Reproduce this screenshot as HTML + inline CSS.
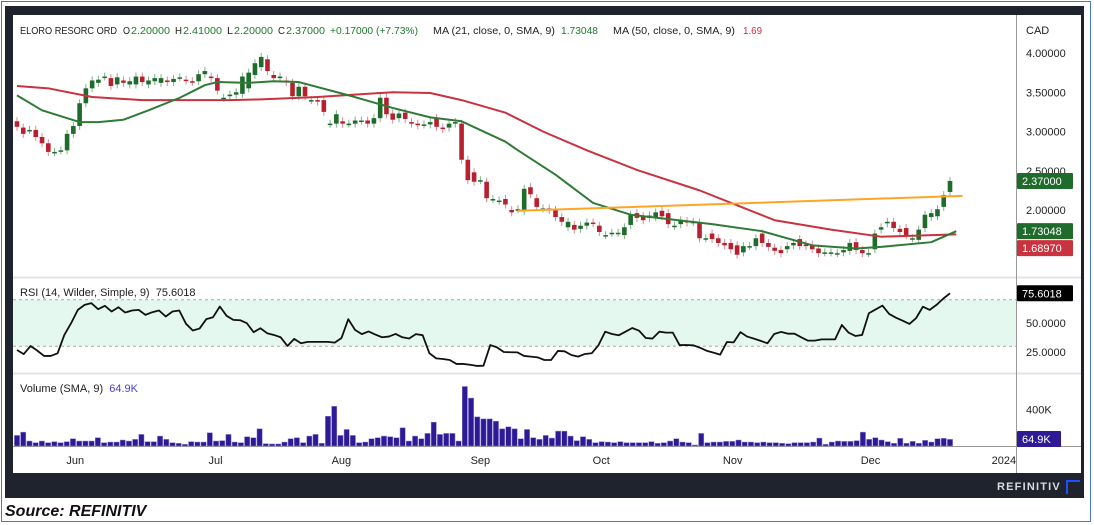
<!DOCTYPE html>
<html><head><meta charset="utf-8">
<style>
html,body{margin:0;padding:0;background:#fff;}
body{width:1094px;height:525px;position:relative;overflow:hidden;font-family:"Liberation Sans",sans-serif;}
#outer{position:absolute;left:1px;top:1px;width:1090px;height:521px;border:1.5px solid #4a78c8;box-sizing:border-box;}
#frame{position:absolute;left:5px;top:6px;width:1079px;height:492px;background:#1f232d;}
#inner{position:absolute;left:13px;top:15px;width:1068px;height:458px;background:#fff;}
svg{position:absolute;left:0;top:0;}
svg text{white-space:pre;}
#src{position:absolute;left:5px;top:503px;font-size:16px;font-weight:bold;font-style:italic;color:#111;}
#brand{position:absolute;left:997px;top:481px;font-size:11px;font-weight:bold;letter-spacing:1.2px;color:#d8dbe0;}
#logo{position:absolute;left:1066px;top:480px;width:14px;height:14px;border-top:2px solid #1e50ff;border-left:2px solid #1e50ff;box-sizing:border-box;}
</style></head><body>
<div id="outer"></div>
<div id="frame"></div>
<div id="inner"></div>
<svg id="chart" width="1094" height="525"></svg>
<div id="brand">REFINITIV</div>
<div id="logo"></div>
<div id="src">Source: REFINITIV</div>
<script>
const opens=[3.13,3.05,3.02,3.02,2.93,2.85,2.74,2.76,2.76,2.97,3.07,3.36,3.55,3.62,3.70,3.68,3.60,3.65,3.60,3.60,3.70,3.60,3.64,3.62,3.65,3.63,3.69,3.66,3.64,3.64,3.73,3.70,3.68,3.43,3.45,3.47,3.48,3.55,3.72,3.82,3.92,3.72,3.68,
3.65,3.62,3.45,3.57,3.40,3.40,3.40,3.10,3.10,3.13,3.10,3.10,3.14,3.14,3.10,3.17,3.43,3.23,3.17,3.24,3.12,3.10,3.09,3.09,3.17,3.05,3.05,3.10,
3.10,2.64,2.48,2.38,2.36,2.14,2.12,2.14,2.00,2.01,1.99,2.29,2.15,2.02,2.02,2.00,1.91,1.78,1.81,1.76,1.80,1.84,1.80,1.68,1.71,1.71,1.68,1.81,1.96,1.92,1.90,1.91,1.99,1.96,1.80,1.82,1.86,1.85,1.84,1.64,1.70,1.64,1.58,1.58,1.55,1.46,1.54,1.54,1.70,1.58,1.52,1.49,1.50,1.55,1.63,1.56,1.56,1.51,1.46,1.46,1.45,1.46,1.48,1.59,1.49,1.45,1.50,1.75,1.83,1.85,1.76,1.77,1.64,1.62,1.77,1.91,1.92,2.04,2.23];
const closes=[3.06,2.97,3.02,2.93,2.85,2.74,2.74,2.76,2.97,3.07,3.36,3.55,3.65,3.66,3.70,3.58,3.69,3.62,3.64,3.70,3.63,3.65,3.68,3.68,3.63,3.67,3.69,3.65,3.63,3.73,3.77,3.68,3.52,3.43,3.47,3.50,3.70,3.75,3.87,3.95,3.77,3.68,3.70,
3.63,3.45,3.57,3.45,3.40,3.38,3.25,3.10,3.22,3.10,3.10,3.14,3.14,3.10,3.17,3.43,3.22,3.15,3.23,3.16,3.10,3.08,3.09,3.12,3.06,3.03,3.10,3.12,
2.64,2.38,2.36,2.38,2.15,2.14,2.12,2.07,1.97,2.01,2.27,2.20,2.04,2.02,2.00,1.91,1.85,1.85,1.75,1.80,1.84,1.83,1.72,1.68,1.71,1.71,1.78,1.94,1.90,1.87,1.93,1.97,1.92,1.82,1.80,1.87,1.84,1.85,1.64,1.64,1.63,1.58,1.55,1.50,1.43,1.54,1.54,1.64,1.58,1.53,1.48,1.45,1.54,1.58,1.54,1.54,1.50,1.45,1.46,1.46,1.45,1.49,1.58,1.49,1.45,1.45,1.70,1.78,1.85,1.77,1.72,1.68,1.64,1.75,1.94,1.96,2.01,2.19,2.37];
const ma21Idx=[0,4,10,13,17,21,26,30,32,37,41,45,53,60,66,71,78,80,86,92,98,111,119,127,134,138,146,150];
const ma21Val=[3.46,3.27,3.12,3.12,3.15,3.27,3.43,3.59,3.63,3.62,3.64,3.63,3.46,3.30,3.18,3.13,2.87,2.76,2.45,2.09,1.94,1.82,1.73,1.55,1.51,1.53,1.59,1.73];
const ma50Idx=[0,5,12,20,34,39,48,60,66,71,78,84,91,99,109,115,121,130,138,150];
const ma50Val=[3.58,3.55,3.44,3.40,3.40,3.41,3.44,3.50,3.49,3.40,3.24,3.00,2.76,2.51,2.25,2.06,1.87,1.75,1.66,1.69];
const trendIdx=[80,151];
const trendVal=[1.99,2.18];
const priceTicks=[4.0,3.5,3.0,2.5,2.0];
const rsiVals=[26.7,23.2,30.2,26.2,21.6,21.6,23.9,39.7,49.8,61.3,65.6,67.1,61.9,64.8,59.9,63.6,59.0,60.8,61.3,57.0,59.3,60.8,55.6,59.9,60.8,49.3,43.5,45.2,53.3,55.0,64.2,56.2,52.7,52.4,49.8,42.1,45.5,41.2,39.7,37.7,30.2,36.3,32.5,33.7,33.7,33.7,33.7,33.1,37.1,53.3,44.1,40.4,42.7,40.0,37.7,38.3,40.6,37.7,36.6,40.4,39.5,23.9,19.5,19.0,18.1,14.7,14.7,14.0,13.0,13.2,
31.0,29.0,25.0,24.8,24.7,21.6,21.0,20.4,18.1,18.1,25.9,25.6,22.4,21.0,23.3,23.9,30.8,42.5,40.5,39.4,42.5,45.7,43.4,37.1,36.6,42.5,41.7,41.7,31.0,31.0,30.8,28.7,26.1,24.5,22.7,33.6,33.3,42.1,38.3,36.5,34.6,32.5,40.5,42.3,40.8,40.8,37.7,34.8,34.8,35.9,35.9,35.9,48.3,41.7,38.8,39.7,58.4,61.7,65.0,57.8,54.6,52.0,49.2,54.3,64.1,61.3,65.6,71.0,75.6];
const rsiTicks=[50,25];
const volK=[115,151,54,36,54,36,47,36,47,79,54,54,54,90,36,43,43,65,54,72,126,47,47,108,72,36,29,18,47,43,43,144,54,58,126,43,36,101,90,187,25,22,22,43,79,90,36,108,126,29,324,432,115,180,115,36,43,79,90,108,101,90,198,54,108,79,137,259,126,137,137,54,648,522,317,295,295,270,187,209,187,79,180,
90,72,115,86,162,162,108,58,101,72,36,47,43,36,47,36,36,36,36,47,29,36,54,79,43,36,11,137,36,43,43,50,50,65,43,43,36,43,36,36,29,25,36,36,36,43,86,18,43,54,50,50,58,151,72,90,65,47,29,83,29,50,29,61,43,79,83,72];
const volTicks=[400];
const monthLabels=['Jun','Jul','Aug','Sep','Oct','Nov','Dec','2024'];
const monthIdx=[9.3,31.7,51.8,74,93.3,114.3,136.3,157.6];

const NS='http://www.w3.org/2000/svg';
const svg=document.getElementById('chart');
const X0=17,X1=950;
function xi(i,n){return X0+i*(X1-X0)/(n-1);}
const xc=i=>xi(i,closes.length);
const yP=p=>53+(4-p)*78.5;
const yR=v=>323-(v-50)*1.16;
const yV=k=>446-k*0.0918;
function el(tag,attrs,parent){const e=document.createElementNS(NS,tag);for(const k in attrs)e.setAttribute(k,attrs[k]);(parent||svg).appendChild(e);return e;}
function txt(s,x,y,attrs){const t=el('text',Object.assign({x:x,y:y,'font-family':'Liberation Sans, sans-serif','font-size':11,fill:'#222'},attrs||{}));t.textContent=s;return t;}

let s1=el('line',{x1:13,x2:1081,y1:277.5,y2:277.5,stroke:'#e3e3e3','stroke-width':2});

let s2=el('line',{x1:13,x2:1081,y1:373.5,y2:373.5,stroke:'#e3e3e3','stroke-width':2});

let s3=el('line',{x1:13,x2:1081,y1:446.5,y2:446.5,stroke:'#999','stroke-width':1});

let s4=el('line',{x1:1016.5,x2:1016.5,y1:15,y2:473,stroke:'#999','stroke-width':1});


let band=el('rect',{x:13,width:1003,y:yR(70),height:yR(30)-yR(70),fill:'#e5f8f0'});

[70,30].forEach(v=>{let l=el('line',{x1:13,x2:1016,y1:yR(v),y2:yR(v),stroke:'#aaa','stroke-dasharray':'3,3'});
});

const cg=el('g',{});
closes.forEach((c,i)=>{
 const o=opens[i];const up=c>=o;const col=up?'#1e6b2b':'#b8202f';const x=xc(i);
 const top=yP(Math.max(o,c)),bot=yP(Math.min(o,c));
 const w=el('line',{x1:x,x2:x,y1:top-4,y2:bot+4,stroke:up?'#7fb08a':'#d98a93','stroke-width':1},cg);
 
 const r=el('rect',{x:x-2.3,width:4.6,y:top,height:Math.max(1.5,bot-top),fill:col},cg);
 
});
function poly(idx,vals,col,name,w){const pts=idx.map((k,j)=>xc(k)+','+yP(vals[j])).join(' ');
 const p=el('polyline',{points:pts,fill:'none',stroke:col,'stroke-width':w,'stroke-linejoin':'round'});
 }
poly(ma50Idx,ma50Val,'#c9323f','ma50-line',2);
poly(ma21Idx,ma21Val,'#2f7a35','ma21-line',2);
poly(trendIdx,trendVal,'#ffa526','trend-line',2);

const rp=rsiVals.map((v,j)=>xi(j,rsiVals.length)+','+yR(v)).join(' ');
let rl=el('polyline',{points:rp,fill:'none',stroke:'#111','stroke-width':1.8,'stroke-linejoin':'round'});


const vg=el('g',{});
const vw=(X1-X0)/(volK.length-1);
volK.forEach((k,j)=>{const x=xi(j,volK.length);
 const b=el('rect',{x:x-vw/2+0.5,width:vw-1,y:yV(k),height:446-yV(k),fill:'#2d1a94',stroke:'#8a7fd0','stroke-width':0.5},vg);
 });

let cad=txt('CAD',1026,34);
priceTicks.forEach(p=>{let t=txt(p.toFixed(5),1026,yP(p)+4);});
rsiTicks.forEach(v=>{let t=txt(v.toFixed(4),1026,yR(v)+4);});
volTicks.forEach(v=>{let t=txt(v+'K',1026,yV(v)+4);});
monthLabels.forEach((m,j)=>{let t=txt(m,xc(monthIdx[j]),464,{'text-anchor':'middle'});});

function badge(label,y,bg,w,name){const g=el('g',{});
 el('rect',{x:1017,y:y-8,width:w,height:16,fill:bg,rx:1},g);
 const t=txt(label,1022,y+4,{fill:'#fff'});g.appendChild(t);}
badge('2.37000',yP(2.37),'#1e6b2b',56,'last-price-badge');
badge('1.73048',yP(1.73048),'#1e6b2b',56,'ma21-badge');
badge('1.68970',yP(1.73048)+17,'#c9323f',56,'ma50-badge');
badge('75.6018',yR(75.6018),'#000',56,'rsi-badge');
badge('64.9K',yV(64.9)-1,'#2d1a94',44,'volume-badge');

function seg(s,x,x2,col,name){let t=txt(s,x,34,{fill:col,'font-size':10.5,textLength:x2-x,lengthAdjust:'spacingAndGlyphs'});return t;}
seg('ELORO RESORC ORD',20,117,'#222','ticker-name');
seg('O',123,130,'#222','open-label');seg('2.20000',131,170,'#1e7a2b','open-value');
seg('H',175,182,'#222','high-label');seg('2.41000',183,222,'#1e7a2b','high-value');
seg('L',227,233,'#222','low-label');seg('2.20000',234,273,'#1e7a2b','low-value');
seg('C',278,285,'#222','close-label');seg('2.37000',286,325,'#1e7a2b','close-value');
seg('+0.17000 (+7.73%)',330,418,'#1e7a2b','change-value');
seg('MA (21, close, 0, SMA, 9)',433,555,'#222','ma21-legend');
seg('1.73048',561,598,'#1e7a2b','ma21-legend-value');
seg('MA (50, close, 0, SMA, 9)',613,735,'#222','ma50-legend');
seg('1.69',743,762,'#c9323f','ma50-legend-value');
let rt=txt('RSI (14, Wilder, Simple, 9)  75.6018',20,296);
let vt=txt('Volume (SMA, 9)  ',20,392);
let vtv=el('tspan',{fill:'#4a3fc0'},vt);vtv.textContent='64.9K';
</script>
</body></html>
